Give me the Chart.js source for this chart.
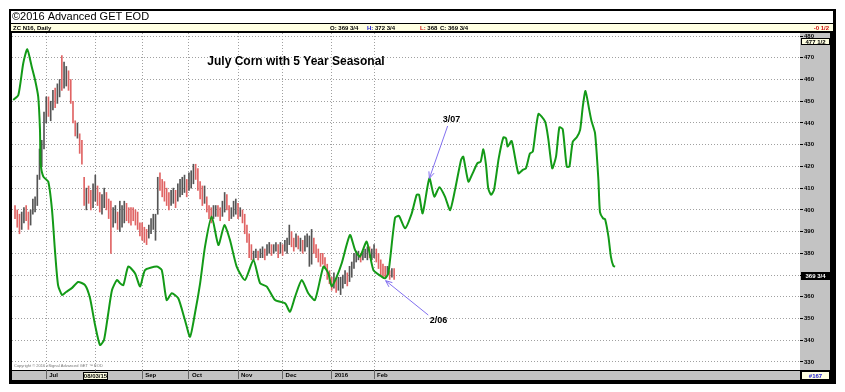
<!DOCTYPE html>
<html>
<head>
<meta charset="utf-8">
<script src="https://cdn.jsdelivr.net/npm/chart.js@4.4.1/dist/chart.umd.min.js"></script>
<style>
  body { margin: 0; background: #fff; }
  canvas { display: block; }
</style>
</head>
<body>
<canvas id="myChart" width="845" height="392"></canvas>
<script>
// x values are trading-day numbers, day 0 = first bar on the chart (mid June 2015)
const monthTicks = [14, 36, 57, 78, 100, 120, 142, 161];
const monthLabels = ['Jul', '', 'Sep', 'Oct', 'Nov', 'Dec', '2016', 'Feb'];
const priceTicks = [330, 340, 350, 360, 370, 380, 390, 400, 410, 420, 430, 440, 450, 460, 470, 480];

// daily bars of ZC N16 (July corn)
const barLow = [396,392,389,391,394,395,391,393,398,399, 402,414,420,428,440,443,441,446,447,449,
  452,455,456,457,455,449,440,434,433,426, 421,402,400,403,400,401,404,402,399,398,
  401,400,396,380,392,394,391,390,392,394, 395,394,393,395,393,391,388,386,385,384,
  387,389,391,386,398,409,406,404,402,400, 402,403,401,404,406,407,408,406,409,410,
  412,414,409,405,402,403,399,396,394,396, 397,397,395,397,399,400,395,396,397,398,
  396,397,394,389,385,378,377,377,378,377, 378,378,377,379,380,379,380,381,378,380,
  379,381,380,384,383,381,383,382,381,380, 381,383,374,375,380,378,376,374,375,373,
  368,366,363,364,362,363,361,364,366,365, 367,369,373,376,377,376,377,378,377,378,
  377,378,376,373,370,369,369,370,368,369, 368];
const barHigh = [402,400,398,399,401,402,399,400,405,406, 416,428,432,445,452,452,450,455,456,458,
  460,471,468,466,464,460,450,441,440,435, 432,415,410,411,409,412,416,411,408,407,
  410,408,405,404,401,402,399,404,402,404, 403,401,401,401,400,399,394,394,392,391,
  393,396,398,398,415,417,414,413,410,408, 409,410,409,412,414,415,416,414,417,418,
  421,421,419,413,411,411,406,402,401,402, 402,402,401,404,408,407,402,401,404,405,
  403,401,400,398,393,389,384,381,382,381, 382,383,382,384,385,384,384,385,384,385,
  384,386,387,393,390,387,389,388,387,386, 388,389,388,391,387,384,382,380,380,378,
  375,372,369,371,368,369,369,370,372,371, 374,376,380,381,381,380,381,382,383,383,
  382,384,382,380,377,375,374,374,372,373, 373];
// 1 = up day (black bar), 0 = down day (red bar)
const barUp = [0,0,0,1,1,0,0,1,1,1, 1,1,1,1,1,0,1,1,0,1, 1,0,1,1,0,0,0,0,1,0,
  0,0,1,0,0,1,1,0,0,1, 1,0,0,0,1,1,0,1,1,1, 0,0,0,0,0,0,0,0,0,0,
  1,1,1,1,1,0,0,0,0,0, 1,1,0,1,1,1,1,0,1,1, 1,0,0,0,0,1,0,0,0,1,
  1,0,0,1,1,0,0,1,1,1, 0,1,0,0,0,0,0,1,1,0, 1,1,0,1,1,0,1,1,0,1,
  0,1,1,1,0,0,1,0,1,0, 1,1,1,1,0,0,0,0,0,0, 0,0,0,1,0,1,1,1,1,0,
  1,1,1,1,1,0,1,1,1,0, 1,1,0,0,0,0,0,1,0,1, 0];

// 5 year seasonal curve
const seasonDay = [-0.8,1.5,3.7,5.5,7.5,9,10.4,11.2,11.5,12.7,14.9,16.6,17.9,19.3,21.1,22.9,25.6,28.3,31.4,33.6,
  35.9,38.1,39.9,41.7,43.5,45.7,47.1,48.6,50.8,53.8,56.1,58.3,63.5,65.8,68,70.3,73.2,76.2,78.5,80.7,
  83,85.2,88.2,91.2,93.9,96.4,99.4,103.1,106.9,109.9,112.9,116.6,121.1,123.3,125.6,128.6,131.5,134.5,138.3,140.5,
  142,144.3,146.5,150.2,152.5,154.7,157.7,160.7,164.4,165.9,167.4,170.4,172.2,174.9,177.9,180.1,181.2,182.8,185.8,188,
  190.3,192.8,195.1,197.3,200,201,203.3,205.2,207.3,208.8,210,211.2,212.2,213.5,214.8,216.9,219,220.2,220.9,222.7,
  225.7,227.7,229.1,230.9,232.2,234.7,237.7,239.1,240.9,242.6,244.1,245.6,247.4,248.6,250.1,251.9,253.4,254.6,255.8,257.5,
  258.5,260.1,261.6,262.3,263.7,264.6,266.1,267.2,268.3,269.1];
const seasonValue = [450.6,452.9,467.5,473.9,465.9,459.8,452.1,436.8,421.4,415.3,413,399.9,381.5,365.4,360.8,362.2,364.1,366.8,365.4,359.5,
  347,337.8,340.1,351.6,363.1,367.7,366.2,365.4,373.9,370.8,364.7,372.3,373.9,372.3,358.5,361.6,359.3,349.3,341.6,352.4,
  366.2,383.1,396.9,383.8,393,386.1,373.9,367.7,376.9,366.2,364.7,358.5,357,353.1,360.1,367.7,361.6,358.5,373.9,370.8,
  364.7,369.3,375.4,388.4,381.5,378.5,385.4,372.3,369.3,368.5,370.8,396.3,397.2,391.5,398.4,406.9,406.9,398.4,414.5,406.1,
  410.4,406.1,399.9,409.2,423,424.5,413,416.8,421.4,422.2,427.9,420.7,409.9,406.9,409.2,423.7,433.4,432.9,429.1,431.7,
  416.8,418.4,419.1,426,426.8,444.1,440.6,432.9,419.1,424.5,438,437.1,419.9,419.9,431.4,433.4,436.8,447.5,454.7,446,
  440.9,435.2,413.8,399,396.1,395.7,387.7,378.5,374.2,373.9];

const lastClose = 369.75;
const highMark = 477.5;

const FONT = '"Liberation Sans", Arial, sans-serif';

const notes = [
  { text: '3/07', x: 195.7, y: 441.4, fromX: 194, fromY: 438.6, toX: 185.8, toY: 414.5 },
  { text: '2/06', x: 189.9, y: 349.3, fromX: 185.3, fromY: 351.6, toX: 166.2, toY: 367.4 }
];

function arrow(c, x1, y1, x2, y2) {
  const ang = Math.atan2(y2 - y1, x2 - x1);
  c.beginPath();
  c.moveTo(x1, y1);
  c.lineTo(x2, y2);
  c.moveTo(x2 - 7 * Math.cos(ang - 0.4), y2 - 7 * Math.sin(ang - 0.4));
  c.lineTo(x2, y2);
  c.lineTo(x2 - 7 * Math.cos(ang + 0.4), y2 - 7 * Math.sin(ang + 0.4));
  c.stroke();
}

function box(c, x, y, w, h, fill, text, color) {
  c.fillStyle = fill;
  c.fillRect(x, y, w, h);
  c.strokeStyle = '#000';
  c.lineWidth = 1;
  c.strokeRect(x + 0.5, y + 0.5, w - 1, h - 1);
  c.fillStyle = color;
  c.textAlign = 'center';
  c.textBaseline = 'middle';
  c.fillText(text, x + w / 2, y + h / 2 + 0.5);
}

const chrome = {
  id: 'chrome',
  beforeDraw(chart) {
    const c = chart.ctx, a = chart.chartArea;
    c.save();
    c.fillStyle = '#000';
    c.fillRect(9, 9, 827, 375);
    c.fillStyle = '#fff';
    c.fillRect(11, 11, 822, 12);
    c.fillStyle = '#ffffe2';
    c.fillRect(11, 24, 822, 7);
    c.fillStyle = '#fff';
    c.fillRect(a.left, a.top, a.right - a.left, a.bottom - a.top);
    c.fillStyle = '#c3c3c3';
    c.fillRect(a.right, a.top, 30, a.bottom - a.top);
    c.fillRect(a.left, a.bottom + 1, a.right - a.left, 9);
    c.restore();
  },
  afterDraw(chart) {
    const c = chart.ctx, a = chart.chartArea;
    const xs = chart.scales.x, ys = chart.scales.y;
    c.save();

    // header
    c.fillStyle = '#000';
    c.font = '11px ' + FONT;
    c.textBaseline = 'middle';
    c.textAlign = 'left';
    c.fillText('\u00a92016 Advanced GET EOD', 12, 17);

    c.font = 'bold 6px ' + FONT;
    c.fillText('ZC N16, Daily', 13, 28);
    [[330, 'O: ', '#000', '369 3/4'], [367, 'H: ', '#1010d0', '372 3/4'],
     [420, 'L: ', '#d01010', '368'], [440, 'C: ', '#000', '369 3/4']].forEach(p => {
      c.fillStyle = p[2];
      c.fillText(p[1], p[0], 28);
      c.fillStyle = '#000';
      c.fillText(p[3], p[0] + c.measureText(p[1]).width, 28);
    });
    c.fillStyle = '#d01010';
    c.textAlign = 'right';
    c.fillText('-0 1/2', 829, 28);

    // right axis markers
    c.font = 'bold 6px ' + FONT;
    const yh = ys.getPixelForValue(highMark);
    box(c, 801, Math.round(yh) - 3, 29, 7, '#ffffe2', '477 1/2', '#000');
    const yc = ys.getPixelForValue(lastClose);
    box(c, 801, Math.round(yc) - 4, 29, 8, '#000', '369 3/4', '#fff');
    box(c, 801, a.bottom + 1, 29, 9, '#ffffe2', '#167', '#1a1ad0');
    const xa = xs.getPixelForValue(monthTicks[1]);
    box(c, Math.round(xa) - 12, a.bottom + 2, 25, 8, '#ffffe2', '08/03/15', '#000');

    // copyright
    c.font = '4px ' + FONT;
    c.fillStyle = '#777';
    c.textAlign = 'left';
    c.fillText('Copyright \u00a9 2016 eSignal Advanced GET \u2122 EOD', 14, a.bottom - 4);

    // chart title
    c.font = 'bold 12px ' + FONT;
    c.fillStyle = '#000';
    c.textAlign = 'center';
    c.fillText('July Corn with 5 Year Seasonal', xs.getPixelForValue(126), ys.getPixelForValue(468.1));

    // date notes
    notes.forEach(n => {
      c.strokeStyle = 'rgb(130,112,240)';
      c.lineWidth = 1;
      arrow(c, xs.getPixelForValue(n.fromX), ys.getPixelForValue(n.fromY),
        xs.getPixelForValue(n.toX), ys.getPixelForValue(n.toY));
      c.font = 'bold 9px ' + FONT;
      c.fillStyle = '#000';
      c.fillText(n.text, xs.getPixelForValue(n.x), ys.getPixelForValue(n.y));
    });
    c.restore();
  }
};

const bars = barLow.map((lo, i) => ({ x: i, y: [lo, barHigh[i]] }));
const season = seasonDay.map((d, i) => ({ x: d, y: seasonValue[i] }));

const config = {
  type: 'bar',
  data: {
    datasets: [{
      type: 'line',
      data: season,
      borderColor: '#139a17',
      borderWidth: 2,
      pointRadius: 0,
      tension: 0.2,
      order: 0
    },
    {
      type: 'bar',
      data: bars,
      backgroundColor: barUp.map(u => u ? '#555555' : '#e06464'),
      barThickness: 1,
      grouped: false,
      order: 1
    }]
  },
  options: {
    responsive: false,
    animation: false,
    layout: { padding: { left: 12, top: 33, right: 14, bottom: 12 } },
    plugins: { legend: { display: false }, tooltip: { enabled: false } },
    scales: {
      x: {
        type: 'linear',
        min: -1.35,
        max: 352,
        offset: false,
        grid: { offset: false, color: '#a0a0a0', drawTicks: true, tickLength: 9, tickColor: '#666' },
        border: { display: false, dash: [1, 2] },
        ticks: {
          autoSkip: false, maxRotation: 0, align: 'start', labelOffset: 3, padding: -7,
          color: '#000', font: { family: FONT, size: 6, weight: 'bold' },
          callback: (v, i) => monthLabels[i]
        },
        afterBuildTicks: s => { s.ticks = monthTicks.map(v => ({ value: v })); },
        afterFit: s => { s.height = 10; }
      },
      y: {
        position: 'right',
        min: 326.3,
        max: 481.4,
        grid: { color: '#a0a0a0', drawTicks: true, tickLength: 3, tickColor: '#000' },
        border: { display: false, dash: [1, 2] },
        ticks: { padding: 1, color: '#000', font: { family: FONT, size: 6, weight: 'bold' } },
        afterBuildTicks: s => { s.ticks = priceTicks.map(v => ({ value: v })); },
        afterFit: s => { s.width = 31; }
      }
    }
  },
  plugins: [chrome]
};

const myChart = new Chart(document.getElementById('myChart'), config);
</script>
</body>
</html>
